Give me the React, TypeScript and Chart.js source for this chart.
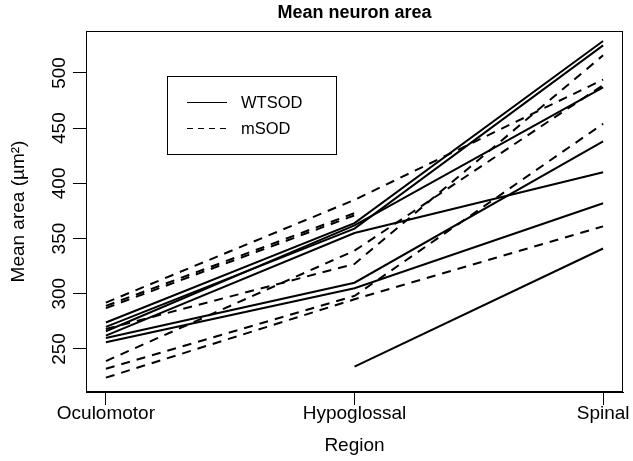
import React, { useEffect, useRef } from "react";
import { Chart, registerables } from "chart.js";

Chart.register(...registerables);

const regions = ["Oculomotor", "Hypoglossal", "Spinal"];
const yTickValues = [250, 300, 350, 400, 450, 500];

const wtSeries: (number | null)[][] = [
  [274, 364, 529],
  [270, 359, 525],
  [266, 362, 487],
  [262, 355, 410],
  [260, 310, 438],
  [256, 305, 382],
  [null, 234, 341],
];

const msodSeries: (number | null)[][] = [
  [292, 385, 494],
  [289, 373, null],
  [287, 371, null],
  [268, 327, 516],
  [239, 339, 489],
  [232, 298, 454],
  [224, 295, 361],
];

const FONT = '"Liberation Sans", Arial, Helvetica, sans-serif';

const textPlugin = {
  id: "rStyleText",
  afterDraw(chart: any) {
    const { ctx, chartArea: ca, scales } = chart;
    ctx.save();
    ctx.strokeStyle = "#000";
    ctx.lineWidth = 1;
    ctx.setLineDash([]);
    ctx.strokeRect(ca.left + 0.5, ca.top + 0.5, ca.right - ca.left - 1, ca.bottom - ca.top - 1);

    ctx.fillStyle = "#000";
    ctx.font = `bold 18px ${FONT}`;
    ctx.textAlign = "center";
    ctx.textBaseline = "middle";
    ctx.fillText("Mean neuron area", (ca.left + ca.right) / 2, 13);

    ctx.font = `19px ${FONT}`;
    regions.forEach((r, i) => {
      ctx.fillText(r, scales.x.getPixelForValue(i + 1), 414);
    });
    ctx.fillText("Region", (ca.left + ca.right) / 2, 446);

    yTickValues.forEach((v) => {
      const y = scales.y.getPixelForValue(v);
      ctx.save();
      ctx.translate(60, y);
      ctx.rotate(-Math.PI / 2);
      ctx.fillText(String(v), 0, 0);
      ctx.restore();
    });
    ctx.save();
    ctx.translate(19, (ca.top + ca.bottom) / 2);
    ctx.rotate(-Math.PI / 2);
    ctx.fillText("Mean area (\u00b5m\u00b2)", 0, 0);
    ctx.restore();

    const lx = 167, ly = 76, lw = 169, lh = 78;
    ctx.lineWidth = 1;
    ctx.strokeRect(lx + 0.5, ly + 0.5, lw, lh);
    ctx.font = `16.5px ${FONT}`;
    ctx.textAlign = "left";
    const entries = [
      { label: "WTSOD", dash: [] as number[], y: 102 },
      { label: "mSOD", dash: [6, 5], y: 128 },
    ];
    entries.forEach((e) => {
      ctx.setLineDash(e.dash);
      ctx.beginPath();
      ctx.moveTo(187, e.y + 0.5);
      ctx.lineTo(227, e.y + 0.5);
      ctx.stroke();
      ctx.setLineDash([]);
      ctx.fillText(e.label, 241, e.y + 1);
    });
    ctx.restore();
  },
};

export default function App() {
  const canvasRef = useRef<HTMLCanvasElement>(null);

  useEffect(() => {
    if (!canvasRef.current) return;
    const toPoints = (arr: (number | null)[]) =>
      arr.map((v, i) => ({ x: i + 1, y: v }));
    const mk = (s: (number | null)[], label: string, dash: number[]) => ({
      label,
      data: toPoints(s),
      borderColor: "#000",
      borderWidth: 2,
      borderDash: dash,
      pointRadius: 0,
      tension: 0,
      spanGaps: false,
      fill: false,
    });
    const datasets: any[] = [
      ...wtSeries.map((s, i) => mk(s, "WTSOD " + (i + 1), [])),
      ...msodSeries.map((s, i) => mk(s, "mSOD " + (i + 1), [9, 7])),
    ];
    const chart = new Chart(canvasRef.current, {
      type: "line",
      data: { datasets },
      options: {
        animation: false,
        responsive: false,
        layout: { padding: { left: 0, right: 10, top: 31, bottom: 0 } },
        plugins: { legend: { display: false }, title: { display: false }, tooltip: { enabled: false } },
        scales: {
          x: {
            type: "linear",
            min: 0.92,
            max: 3.08,
            afterBuildTicks: (s: any) => {
              s.ticks = regions.map((_, i) => ({ value: i + 1 }));
            },
            afterFit: (s: any) => {
              s.height = 69;
            },
            ticks: { display: false },
            grid: { drawOnChartArea: false, drawTicks: true, tickLength: 13, color: "#000", lineWidth: 1 },
            border: { display: true, color: "#000", width: 1 },
          },
          y: {
            type: "linear",
            min: 211,
            max: 538,
            afterBuildTicks: (s: any) => {
              s.ticks = yTickValues.map((v) => ({ value: v }));
            },
            afterFit: (s: any) => {
              s.width = 86;
            },
            ticks: { display: false },
            grid: { drawOnChartArea: false, drawTicks: true, tickLength: 13, color: "#000", lineWidth: 1 },
            border: { display: true, color: "#000", width: 1 },
          },
        },
      },
      plugins: [textPlugin],
    });
    return () => chart.destroy();
  }, []);

  return (
    <div style={{ position: "fixed", left: 0, top: 0, width: 633, height: 461, background: "#fff" }}>
      <canvas ref={canvasRef} width={633} height={461} />
    </div>
  );
}
